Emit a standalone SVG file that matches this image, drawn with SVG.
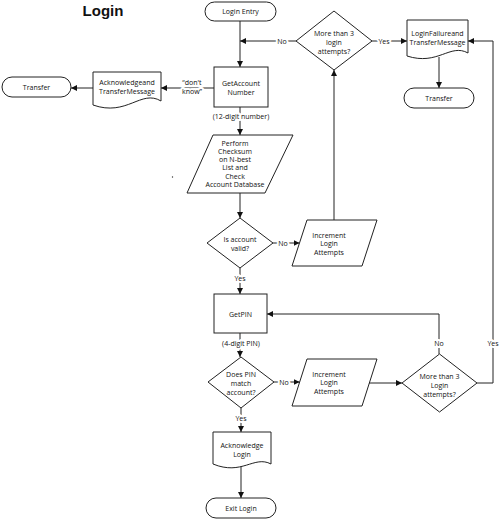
<svg xmlns="http://www.w3.org/2000/svg" width="500" height="520" viewBox="0 0 500 520">
<defs>
<marker id="ah" viewBox="0 0 10 10" refX="10" refY="5" markerWidth="6" markerHeight="6" markerUnits="userSpaceOnUse" orient="auto">
<path d="M0,0 L10,5 L0,10 Z" fill="#111"/>
</marker>
</defs>
<style>
.s{fill:#fff;stroke:#222;stroke-width:1}
.t{font-family:"Open Sans","Noto Sans",sans-serif;font-size:7px;fill:#111;text-anchor:middle;dominant-baseline:central}
.c{fill:none;stroke:#222;stroke-width:1;marker-end:url(#ah)}
.l{font-family:"Open Sans","Noto Sans",sans-serif;font-size:7px;fill:#111;text-anchor:middle;dominant-baseline:central;stroke:#fff;stroke-width:4;paint-order:stroke;stroke-linejoin:round}
</style>
<rect width="500" height="520" fill="#fff"/>
<text x="103" y="16" font-family="'Liberation Sans',Arial,sans-serif" font-size="15" font-weight="bold" text-anchor="middle" fill="#111">Login</text>
<circle cx="172.5" cy="177" r="0.7" fill="#333"/>

<g id="connectors">
<path class="c" d="M240,21 V67"/>
<path class="c" d="M296,41 H240"/>
<path class="c" d="M372,41 H407"/>
<path class="c" d="M439,57 V88"/>
<path class="c" d="M214,88 H161"/>
<path class="c" d="M93,88 H71"/>
<path class="c" d="M240,107 V135"/>
<path class="c" d="M240,193 V218"/>
<path class="c" d="M273,243 H299.5"/>
<path class="c" d="M334,220 V70"/>
<path class="c" d="M240,268 V294"/>
<path class="c" d="M240,333 V357"/>
<path class="c" d="M274,382 H299.7"/>
<path class="c" d="M369,383 H402"/>
<path class="c" d="M439,354 V314 H267"/>
<path class="c" d="M477,383 H493 V41 H468"/>
<path class="c" d="M241,408 V432"/>
<path class="c" d="M241,466 V498"/>
<text class="l" x="282" y="41">No</text>
<text class="l" x="384" y="41">Yes</text>
<text class="l" x="192" y="82">“don't</text>
<text class="l" x="192" y="91">know”</text>
<text class="l" x="241" y="116">(12-digit number)</text>
<text class="l" x="283" y="243">No</text>
<text class="l" x="240" y="278">Yes</text>
<text class="l" x="241" y="343">(4-digit PIN)</text>
<text class="l" x="284" y="382">No</text>
<text class="l" x="439" y="343">No</text>
<text class="l" x="493" y="343">Yes</text>
<text class="l" x="241" y="418">Yes</text>
</g>

<g id="login-entry">
<rect class="s" x="205" y="2" width="71" height="19" rx="9.5"/>
<text class="t" x="240.5" y="11.5">Login Entry</text>
</g>

<g id="get-account">
<rect class="s" x="214" y="67" width="54" height="40"/>
<text class="t" x="241" y="83">GetAccount</text>
<text class="t" x="241" y="92">Number</text>
</g>

<g id="ack-transfer-msg">
<path class="s" d="M93,72 H161 V101 C141,89 127,117 93,105 Z"/>
<text class="t" x="127" y="82">Acknowledgeand</text>
<text class="t" x="127" y="91">TransferMessage</text>
</g>

<g id="transfer-left">
<rect class="s" x="2" y="77" width="69" height="20" rx="10"/>
<text class="t" x="36.5" y="87">Transfer</text>
</g>

<g id="more-than-3-a">
<path class="s" d="M334,11 L372,41 L334,70 L296,41 Z"/>
<text class="t" x="334" y="33">More than 3</text>
<text class="t" x="334" y="42">login</text>
<text class="t" x="334" y="51">attempts?</text>
</g>

<g id="login-failure-msg">
<path class="s" d="M407,20 H468 V53 C450,43 438,66 407,56 Z"/>
<text class="t" x="437.5" y="33">LoginFailureand</text>
<text class="t" x="437.5" y="42">TransferMessage</text>
</g>

<g id="transfer-right">
<rect class="s" x="404" y="88" width="70" height="20" rx="10"/>
<text class="t" x="439" y="98">Transfer</text>
</g>

<g id="checksum">
<path class="s" d="M213,135 H293 L265,193 H187 Z"/>
<text class="t" x="235" y="143">Perform</text>
<text class="t" x="235" y="151.3">Checksum</text>
<text class="t" x="235" y="159.6">on N-best</text>
<text class="t" x="235" y="167.9">List and</text>
<text class="t" x="235" y="176.2">Check</text>
<text class="t" x="235" y="184.5">Account Database</text>
</g>

<g id="account-valid">
<path class="s" d="M240,218 L273,243 L240,268 L207,243 Z"/>
<text class="t" x="240" y="239">Is account</text>
<text class="t" x="240" y="248">valid?</text>
</g>

<g id="increment-a">
<path class="s" d="M307,220 H377 L362,266 H292 Z"/>
<text class="t" x="329" y="235">Increment</text>
<text class="t" x="329" y="243.5">Login</text>
<text class="t" x="329" y="252">Attempts</text>
</g>

<g id="get-pin">
<rect class="s" x="214" y="294" width="53" height="39"/>
<text class="t" x="240.5" y="314">GetPIN</text>
</g>

<g id="pin-match">
<path class="s" d="M241,357 L274,382 L241,408 L208,382 Z"/>
<text class="t" x="241" y="374">Does PIN</text>
<text class="t" x="241" y="383">match</text>
<text class="t" x="241" y="392">account?</text>
</g>

<g id="increment-b">
<path class="s" d="M307,359 H377 L362,406 H292 Z"/>
<text class="t" x="329" y="374">Increment</text>
<text class="t" x="329" y="382.5">Login</text>
<text class="t" x="329" y="391">Attempts</text>
</g>

<g id="more-than-3-b">
<path class="s" d="M439.5,354 L477,383 L439.5,412 L402,383 Z"/>
<text class="t" x="439.5" y="376">More than 3</text>
<text class="t" x="439.5" y="385">Login</text>
<text class="t" x="439.5" y="394">attempts?</text>
</g>

<g id="ack-login">
<path class="s" d="M213,432 H271 V464 C254,455 242,476 213,464 Z"/>
<text class="t" x="242" y="445">Acknowledge</text>
<text class="t" x="242" y="454">Login</text>
</g>

<g id="exit-login">
<rect class="s" x="206" y="498" width="70" height="20" rx="10"/>
<text class="t" x="241" y="508">Exit Login</text>
</g>
</svg>
